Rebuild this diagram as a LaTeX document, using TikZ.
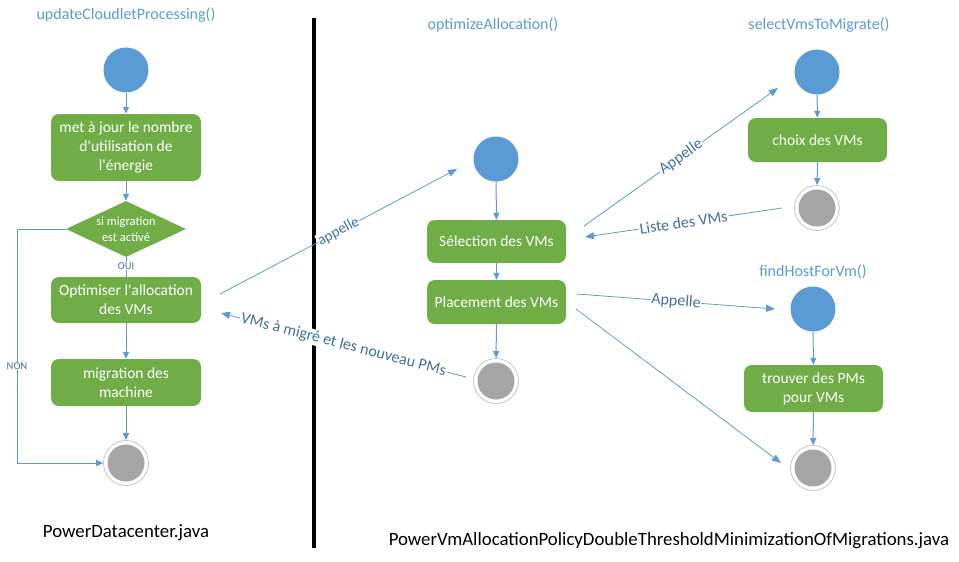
\documentclass[tikz,border=0pt]{standalone}
\usepackage{fontspec}
\setmainfont{Carlito}[Ligatures=TeXOff]
\usetikzlibrary{arrows.meta,shapes.geometric}
\definecolor{boxgreen}{HTML}{70AD47}
\definecolor{startblue}{HTML}{5B9BD5}
\definecolor{linkblue}{HTML}{5B9BD5}
\definecolor{lblblue}{HTML}{41719C}
\definecolor{endgray}{HTML}{A5A5A5}
\definecolor{ringgray}{HTML}{BFBFBF}
\begin{document}
\begin{tikzpicture}[x=1pt,y=-1pt,
  box/.style={fill=boxgreen, rounded corners=8pt, text=white, align=center,
    font=\fontsize{15.5}{19}\selectfont, inner sep=0pt, minimum width=150pt},
  rbox/.style={box, minimum width=139pt},
  startc/.style={circle, fill=startblue, minimum size=45pt, inner sep=0pt},
  endc/.style={circle, fill=white, draw=ringgray, line width=0.7pt, minimum size=45pt, inner sep=0pt,
    path picture={\fill[endgray] (path picture bounding box.center) circle (18.5pt);}},
  conn/.style={draw=linkblue, line width=1pt, -{Triangle[length=7pt,width=6pt]}},
  xconn/.style={draw=linkblue, line width=0.8pt, -{Triangle[length=9pt,width=7pt]}},
  title/.style={text=startblue, font=\fontsize{16}{18}\selectfont},
  lbl/.style={text=lblblue, font=\fontsize{16}{18}\selectfont, fill=white, inner sep=1pt, sloped},
  small/.style={text=lblblue, font=\fontsize{10.5}{12}\selectfont, fill=white, inner sep=1pt},
  fname/.style={text=black, font=\fontsize{18.8}{21}\selectfont}
]
\useasboundingbox (0,0) rectangle (959,562);

% separator
\draw[line width=4pt, black] (314,18) -- (314,548);

% ---------- left: PowerDatacenter ----------
\node[title] (t1) at (126,15) {updateCloudletProcessing()};
\node[startc] (s1) at (126,70) {};
\node[box, minimum height=67pt] (b1) at (126,147.5) {met à jour le nombre\\d'utilisation de\\l'énergie};
\node[diamond, fill=boxgreen, minimum width=120pt, minimum height=56pt, inner sep=0pt] (dec) at (126,229) {};
\node[text=white, align=center, font=\fontsize{12.5}{16}\selectfont] (dect) at (dec) {si migration\\est activé};
\node[box, minimum height=46pt] (b2) at (126,300) {Optimiser l'allocation\\des VMs};
\node[box, minimum height=47pt] (b3) at (126,382.5) {migration des\\machine};
\node[endc] (e1) at (126,463) {};
\node[fname] (f1) at (126,533) {PowerDatacenter.java};

\draw[conn] (s1) -- (b1);
\draw[conn] (b1) -- (dec);
\draw[draw=linkblue, line width=1pt] (dec) -- (b2) node[small, pos=0.45] {OUI};
\draw[conn] (b2) -- (b3);
\draw[conn] (b3) -- (e1);
\coordinate (nonc) at (17,229);
\draw[conn] (dec.west) -- (nonc) |- (e1.west);
\node[small] (non) at (17,366) {NON};

% ---------- middle: optimizeAllocation ----------
\node[title] (t2) at (493,25) {optimizeAllocation()};
\node[startc] (s2) at (496,159) {};
\node[rbox, minimum height=43pt] (sel) at (496.5,241.5) {Sélection des VMs};
\node[rbox, minimum height=44pt] (pla) at (496.5,302) {Placement des VMs};
\node[endc] (e3) at (496,381) {};
\draw[conn] (s2) -- (sel);
\draw[conn] (sel) -- (pla);
\draw[conn] (pla) -- (e3);

% ---------- right top: selectVmsToMigrate ----------
\node[title] (t4) at (819,25) {selectVmsToMigrate()};
\node[startc] (s4) at (817,72) {};
\node[rbox, minimum height=44pt] (cho) at (817.5,140) {choix des VMs};
\node[endc] (e5) at (817,208) {};
\draw[conn] (s4) -- (cho);
\draw[conn] (cho) -- (e5);

% ---------- right bottom: findHostForVm ----------
\node[title] (t6) at (813,272) {findHostForVm()};
\node[startc] (s6) at (813,309) {};
\node[rbox, minimum height=47pt] (tro) at (813.5,388.5) {trouver des PMs\\pour VMs};
\node[endc] (e7) at (813,468) {};
\draw[conn] (s6) -- (tro);
\draw[conn] (tro) -- (e7);

\node[fname] (f2) at (669,541) {PowerVmAllocationPolicyDoubleThresholdMinimizationOfMigrations.java};

% ---------- cross connectors ----------
\coordinate (a1s) at (220,294);
\coordinate (a1e) at (457,169);
\draw[xconn] (a1s) -- (a1e) node[lbl, midway, font=\fontsize{15}{17}\selectfont] {appelle};

\coordinate (r1s) at (466,377);
\coordinate (r1e) at (221,313);
\draw[xconn] (r1s) -- (r1e) node[lbl, midway] {VMs à migré et les nouveau PMs};

\coordinate (a2s) at (584,226);
\coordinate (a2e) at (778,88);
\draw[xconn] (a2s) -- (a2e) node[lbl, midway] {Appelle};

\coordinate (l1s) at (782,208);
\coordinate (l1e) at (585,237);
\draw[xconn] (l1s) -- (l1e) node[lbl, midway] {Liste des VMs};

\coordinate (a3s) at (577,294);
\coordinate (a3e) at (775,309);
\draw[xconn] (a3s) -- (a3e) node[lbl, midway] {Appelle};

\coordinate (u1s) at (576,309);
\coordinate (u1e) at (781,463);
\draw[xconn] (u1s) -- (u1e);
\end{tikzpicture}
\end{document}
